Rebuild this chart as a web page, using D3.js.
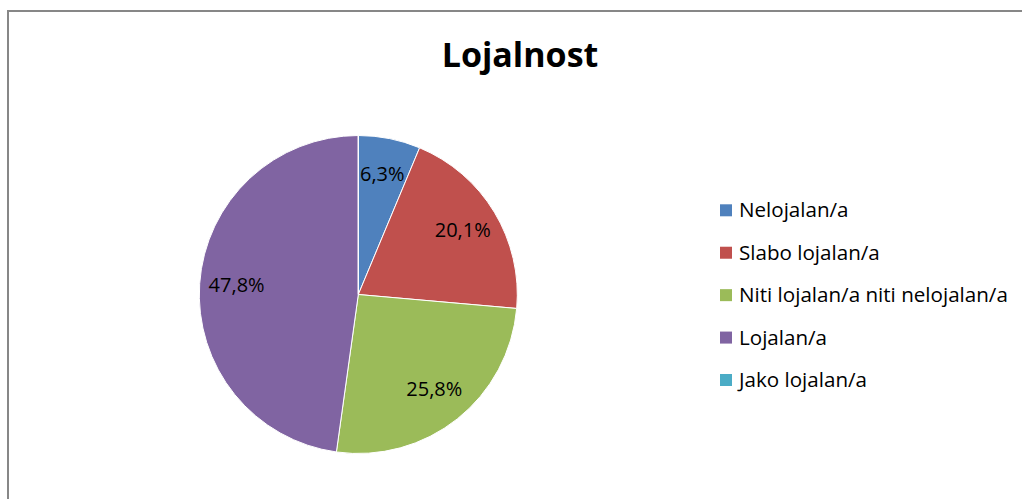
<!DOCTYPE html>
<html>
<head>
<meta charset="utf-8">
<script src="https://cdn.jsdelivr.net/npm/d3@7"></script>
<style>
  body { margin: 0; background: #fff; }
  svg { display: block; }
</style>
</head>
<body>
<div id="app"></div>
<script>
const width = 1022;
const height = 499;

const title = "Lojalnost";
const categories = ["Nelojalan/a", "Slabo lojalan/a", "Niti lojalan/a niti nelojalan/a", "Lojalan/a", "Jako lojalan/a"];
const values = [6.3, 20.1, 25.8, 47.8, 0];
const colors = ["#4F81BD", "#C0504D", "#9BBB59", "#8064A2", "#4BACC6"];

const svg = d3.select("#app").append("svg")
  .attr("width", width)
  .attr("height", height);

// chart frame (only top and left edges visible)
svg.append("rect")
  .attr("x", 8)
  .attr("y", 11)
  .attr("width", width + 20)
  .attr("height", height + 20)
  .attr("fill", "#fff")
  .attr("stroke", "#878787")
  .attr("stroke-width", 2);

svg.append("text")
  .attr("x", 520)
  .attr("y", 67)
  .attr("text-anchor", "middle")
  .attr("font-family", "'Open Sans', sans-serif")
  .attr("font-weight", "bold")
  .attr("font-size", 34)
  .attr("fill", "#000")
  .text(title);

const cx = 358.3, cy = 294.5, radius = 159;

const color = d3.scaleOrdinal().domain(categories).range(colors);

const data = categories.map((c, i) => ({ name: c, value: values[i] }));

const pie = d3.pie()
  .sort(null)
  .value(d => d.value)
  .startAngle(0)
  .endAngle(2 * Math.PI);

const arc = d3.arc().innerRadius(0).outerRadius(radius);
const labelArc = d3.arc().innerRadius(122).outerRadius(122);

const pieGroup = svg.append("g")
  .attr("transform", `translate(${cx},${cy})`);

const arcs = pie(data);

pieGroup.selectAll("path")
  .data(arcs)
  .enter()
  .append("path")
  .attr("d", arc)
  .attr("fill", d => color(d.data.name))
  .attr("stroke", "#fff")
  .attr("stroke-width", 1);

pieGroup.selectAll("text")
  .data(arcs.filter(d => d.data.value > 0))
  .enter()
  .append("text")
  .attr("transform", d => `translate(${labelArc.centroid(d)})`)
  .attr("dy", "0.3em")
  .attr("text-anchor", "middle")
  .attr("font-family", "'Open Sans', sans-serif")
  .attr("font-size", 20)
  .attr("fill", "#000")
  .text(d => d.data.value.toFixed(1).replace(".", ",") + "%");

// legend
const legendY = d3.scalePoint()
  .domain(categories)
  .range([217.3, 387]);

const legend = svg.append("g");

const items = legend.selectAll("g")
  .data(categories)
  .enter()
  .append("g")
  .attr("transform", d => `translate(720,${legendY(d)})`);

items.append("rect")
  .attr("x", 0)
  .attr("y", -13)
  .attr("width", 12)
  .attr("height", 12)
  .attr("fill", d => color(d));

items.append("text")
  .attr("x", 19)
  .attr("y", 0)
  .attr("font-family", "'Open Sans', sans-serif")
  .attr("font-size", 20.6)
  .attr("fill", "#000")
  .text(d => d);
</script>
</body>
</html>
